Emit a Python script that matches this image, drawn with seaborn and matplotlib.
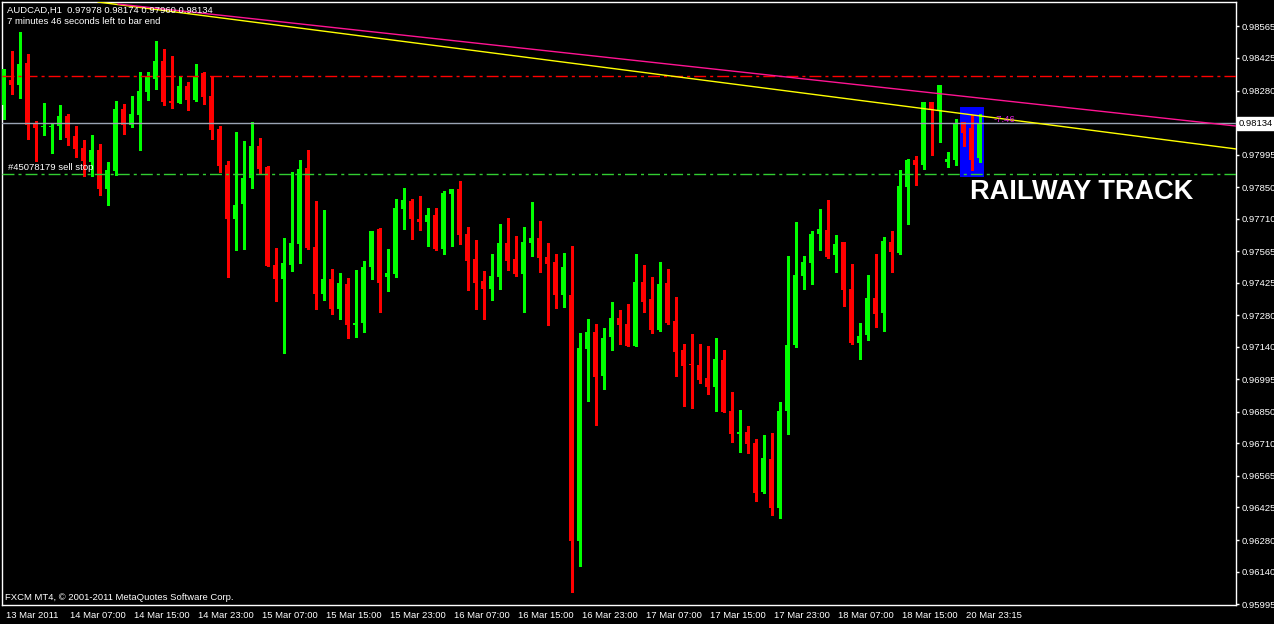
import matplotlib
matplotlib.use('Agg')
import matplotlib.pyplot as plt
import matplotlib.transforms as mtransforms
from matplotlib.patches import Rectangle
import numpy as np
import pandas as pd
import seaborn as sns

# AUDCAD H1 candles (oldest first)
opens = [
    0.98216, 0.98327, 0.98305, 0.98403, 0.98131, 0.98118, 0.98118, 0.98122, 0.98167, 0.98078,
    0.98024, 0.97962, 0.98016, 0.97842, 0.97922, 0.98198, 0.98127, 0.98171, 0.98274, 0.98331,
    0.98412, 0.98234, 0.98225, 0.98300, 0.98238, 0.98358, 0.98256, 0.98109, 0.97949, 0.97708,
    0.97775, 0.97891, 0.98033, 0.97940, 0.97504, 0.97441, 0.97504, 0.97597, 0.97935, 0.97584,
    0.97375, 0.97441, 0.97308, 0.97419, 0.97239, 0.97246, 0.97495, 0.97664, 0.97450, 0.97464,
    0.97753, 0.97789, 0.97708, 0.97695, 0.97726, 0.97575, 0.97820, 0.97842, 0.97642, 0.97530,
    0.97433, 0.97397, 0.97450, 0.97602, 0.97530, 0.97464, 0.97602, 0.97624, 0.97539, 0.97517,
    0.97370, 0.97370, 0.96276, 0.97130, 0.97206, 0.97010, 0.97183, 0.97268, 0.97241, 0.97143,
    0.97428, 0.97352, 0.97215, 0.97424, 0.97255, 0.97126, 0.97061, 0.97059, 0.97001, 0.96961,
    0.97081, 0.96854, 0.96754, 0.96761, 0.96712, 0.96494, 0.96640, 0.96422, 0.96854, 0.97148,
    0.97455, 0.97513, 0.97642, 0.97660, 0.97548, 0.97606, 0.97397, 0.97157, 0.97192, 0.97357,
    0.97290, 0.97606, 0.97557, 0.97851, 0.97971, 0.97949, 0.98229, 0.98194, 0.97962, 0.97971,
    0.98140, 0.98113, 0.97978]

highs = [
    0.98376, 0.98456, 0.98541, 0.98443, 0.98145, 0.98225, 0.98136, 0.98216, 0.98176, 0.98122,
    0.98060, 0.98082, 0.98042, 0.97962, 0.98234, 0.98220, 0.98256, 0.98363, 0.98363, 0.98501,
    0.98465, 0.98434, 0.98345, 0.98318, 0.98398, 0.98363, 0.98345, 0.98122, 0.97967, 0.98096,
    0.98056, 0.98140, 0.98069, 0.97944, 0.97579, 0.97624, 0.97918, 0.97971, 0.98016, 0.97789,
    0.97749, 0.97486, 0.97468, 0.97446, 0.97482, 0.97522, 0.97655, 0.97668, 0.97575, 0.97797,
    0.97846, 0.97797, 0.97811, 0.97757, 0.97757, 0.97833, 0.97842, 0.97878, 0.97673, 0.97615,
    0.97477, 0.97553, 0.97686, 0.97713, 0.97633, 0.97673, 0.97784, 0.97700, 0.97602, 0.97553,
    0.97557, 0.97588, 0.97201, 0.97263, 0.97241, 0.97223, 0.97339, 0.97303, 0.97330, 0.97553,
    0.97504, 0.97450, 0.97517, 0.97486, 0.97361, 0.97152, 0.97197, 0.97152, 0.97143, 0.97179,
    0.97126, 0.96939, 0.96859, 0.96787, 0.96729, 0.96747, 0.96756, 0.96894, 0.97544, 0.97695,
    0.97544, 0.97655, 0.97753, 0.97793, 0.97637, 0.97606, 0.97508, 0.97246, 0.97459, 0.97553,
    0.97628, 0.97655, 0.97927, 0.97975, 0.97989, 0.98229, 0.98229, 0.98305, 0.98007, 0.98153,
    0.98140, 0.98171, 0.98174]

lows = [
    0.98153, 0.98265, 0.98247, 0.98064, 0.97967, 0.98082, 0.98002, 0.98064, 0.98038, 0.97984,
    0.97900, 0.97900, 0.97815, 0.97771, 0.97904, 0.98087, 0.98118, 0.98016, 0.98238, 0.98287,
    0.98216, 0.98202, 0.98225, 0.98194, 0.98234, 0.98220, 0.98064, 0.97918, 0.97450, 0.97571,
    0.97575, 0.97846, 0.97909, 0.97499, 0.97344, 0.97112, 0.97477, 0.97513, 0.97575, 0.97308,
    0.97348, 0.97286, 0.97263, 0.97179, 0.97183, 0.97206, 0.97441, 0.97295, 0.97388, 0.97450,
    0.97664, 0.97619, 0.97660, 0.97588, 0.97571, 0.97553, 0.97588, 0.97597, 0.97393, 0.97308,
    0.97263, 0.97348, 0.97397, 0.97482, 0.97455, 0.97295, 0.97544, 0.97473, 0.97237, 0.97312,
    0.97317, 0.96049, 0.96164, 0.96899, 0.96792, 0.96952, 0.97126, 0.97152, 0.97143, 0.97143,
    0.97295, 0.97201, 0.97210, 0.97241, 0.97010, 0.96876, 0.96867, 0.96979, 0.96930, 0.96854,
    0.96850, 0.96716, 0.96672, 0.96667, 0.96454, 0.96489, 0.96391, 0.96378, 0.96752, 0.97139,
    0.97397, 0.97419, 0.97571, 0.97535, 0.97473, 0.97321, 0.97152, 0.97085, 0.97170, 0.97228,
    0.97210, 0.97473, 0.97553, 0.97686, 0.97860, 0.97931, 0.97993, 0.98051, 0.97940, 0.97949,
    0.98033, 0.97927, 0.97960]

closes = [
    0.98376, 0.98305, 0.98398, 0.98127, 0.98113, 0.98122, 0.98122, 0.98167, 0.98069, 0.98020,
    0.97967, 0.98016, 0.97842, 0.97927, 0.98198, 0.98127, 0.98176, 0.98278, 0.98340, 0.98412,
    0.98229, 0.98225, 0.98300, 0.98238, 0.98340, 0.98251, 0.98105, 0.97944, 0.97708, 0.97771,
    0.97891, 0.98033, 0.97931, 0.97499, 0.97441, 0.97513, 0.97602, 0.97931, 0.97579, 0.97375,
    0.97441, 0.97308, 0.97424, 0.97237, 0.97243, 0.97495, 0.97655, 0.97424, 0.97468, 0.97757,
    0.97793, 0.97708, 0.97695, 0.97726, 0.97575, 0.97824, 0.97842, 0.97637, 0.97522, 0.97424,
    0.97397, 0.97455, 0.97602, 0.97522, 0.97464, 0.97606, 0.97624, 0.97535, 0.97508, 0.97370,
    0.97495, 0.96276, 0.97134, 0.97206, 0.97005, 0.97179, 0.97268, 0.97237, 0.97143, 0.97428,
    0.97339, 0.97215, 0.97419, 0.97246, 0.97117, 0.97054, 0.97057, 0.96992, 0.96961, 0.97085,
    0.96850, 0.96752, 0.96756, 0.96707, 0.96489, 0.96645, 0.96422, 0.96854, 0.97148, 0.97459,
    0.97517, 0.97642, 0.97664, 0.97539, 0.97597, 0.97393, 0.97157, 0.97188, 0.97357, 0.97286,
    0.97611, 0.97562, 0.97855, 0.97971, 0.97949, 0.98229, 0.98198, 0.98305, 0.97975, 0.98136,
    0.98091, 0.97971, 0.98134]

# time axis labels (one every 8 bars)
time_ticks = [0, 8, 16, 24, 32, 40, 48, 56, 64, 72, 80, 88, 96, 104, 112, 120]
time_labels = ['13 Mar 2011', '14 Mar 07:00', '14 Mar 15:00', '14 Mar 23:00', '15 Mar 07:00',
               '15 Mar 15:00', '15 Mar 23:00', '16 Mar 07:00', '16 Mar 15:00', '16 Mar 23:00',
               '17 Mar 07:00', '17 Mar 15:00', '17 Mar 23:00', '18 Mar 07:00', '18 Mar 15:00',
               '20 Mar 23:15']

price_labels = ['0.98565', '0.98425', '0.98280', '0.97995', '0.97850', '0.97710', '0.97565',
                '0.97425', '0.97280', '0.97140', '0.96995', '0.96850', '0.96710', '0.96565',
                '0.96425', '0.96280', '0.96140', '0.95995']

bid = 0.98134
resist_level = 0.98345      # red dash-dot
sellstop_level = 0.97909    # green dash-dot

# trend lines (bar index, price)
yellow_x = [11.8, 154.1]
yellow_y = [0.98674, 0.98020]
pink_x = [14.3, 154.1]
pink_y = [0.98665, 0.98122]

# highlighted box around the last three bars
box_x = [119.56, 122.56]
box_y = [0.97895, 0.98207]

df = pd.DataFrame({'open': opens, 'high': highs, 'low': lows, 'close': closes})
df['bar'] = np.arange(len(df))
df['up'] = df['close'] >= df['open']

sns.set_style('dark', {'axes.facecolor': 'black', 'figure.facecolor': 'black'})
plt.rcParams['font.family'] = ['Liberation Sans', 'DejaVu Sans']

fig = plt.figure(figsize=(12.74, 6.24), dpi=100)
fig.patch.set_facecolor('black')
ax = fig.add_axes([2 / 1274, 19 / 624, 1234 / 1274, 603 / 624])
ax.set_facecolor('black')

# box behind the candles
ax.add_patch(Rectangle((box_x[0], box_y[0]), box_x[1] - box_x[0], box_y[1] - box_y[0],
                       facecolor='#0000ff', edgecolor='none', zorder=1))

# candles
colors = np.where(df['up'], '#00ff00', '#ff0000')
ax.vlines(df['bar'], df['low'], df['high'], colors=colors, lw=1, zorder=2, antialiased=False)
body = (df['close'] - df['open']).abs().clip(lower=0.00005)
ax.bar(df['bar'], body, bottom=df[['open', 'close']].min(axis=1), width=0.68,
       color=colors, lw=0, zorder=3)

# levels and trend lines
ax.axhline(bid, color='#9aa4b4', lw=1, zorder=4)
ax.axhline(resist_level, color='#ff0000', lw=1, dashes=(8.6, 2.9, 2.2, 2.9), zorder=4)
ax.axhline(sellstop_level, color='#32cd32', lw=1, dashes=(8.6, 2.9, 2.2, 2.9), zorder=4)
sns.lineplot(x=yellow_x, y=yellow_y, color='#ffff00', lw=1, ax=ax, zorder=4)
sns.lineplot(x=pink_x, y=pink_y, color='#ff1493', lw=1, ax=ax, zorder=4)

ax.set_xlim(-0.1875, 154.06)
ax.set_ylim(0.95991, 0.98674)

# annotations
ax.text(0.56, 0.97927, '#45078179 sell stop', color='white', fontsize=6.8, va='baseline', zorder=5)
ax.text(123.7, 0.98151, '-7.46', color='#e020e0', fontsize=6.8, va='center', zorder=5)
ax.text(120.8, 0.97797, 'RAILWAY TRACK', color='white', fontsize=19.5, fontweight='bold',
        va='baseline', zorder=5)

# axes styling
for sp in ax.spines.values():
    sp.set_color('white')
    sp.set_linewidth(1)
ax.grid(False)
ax.yaxis.tick_right()
ax.set_yticks([float(v) for v in price_labels])
ax.set_yticklabels(price_labels)
ax.set_xticks(time_ticks)
ax.set_xticklabels(time_labels)
ax.tick_params(axis='y', colors='white', length=2.5, width=1, pad=1.5, labelsize=6.8)
ax.tick_params(axis='x', colors='white', length=3.5, width=1, pad=1, labelsize=6.8)
offset = mtransforms.ScaledTranslation(2 / 100, 0, fig.dpi_scale_trans)
for lab in ax.get_xticklabels():
    lab.set_horizontalalignment('left')
    lab.set_transform(lab.get_transform() + offset)
ax.set_xlabel('')
ax.set_ylabel('')

# current bid label on the price scale
trans = mtransforms.blended_transform_factory(ax.transAxes, ax.transData)
ax.text(1.0 + 3 / 1234, bid, '0.98134', transform=trans, color='black', fontsize=6.8,
        va='center', ha='left', clip_on=False,
        bbox=dict(facecolor='white', edgecolor='white', pad=1.2))

# chart header and footer
fig.text(7 / 1274, 1 - 10 / 624, 'AUDCAD,H1  0.97978 0.98174 0.97960 0.98134',
         color='white', fontsize=6.8, va='center')
fig.text(7 / 1274, 1 - 21 / 624, '7 minutes 46 seconds left to bar end',
         color='white', fontsize=6.8, va='center')
fig.text(5 / 1274, 1 - 598 / 624, 'FXCM MT4, \u00a9 2001-2011 MetaQuotes Software Corp.',
         color='white', fontsize=6.8, va='center')

fig.savefig('out.png', dpi=100, facecolor='black')
